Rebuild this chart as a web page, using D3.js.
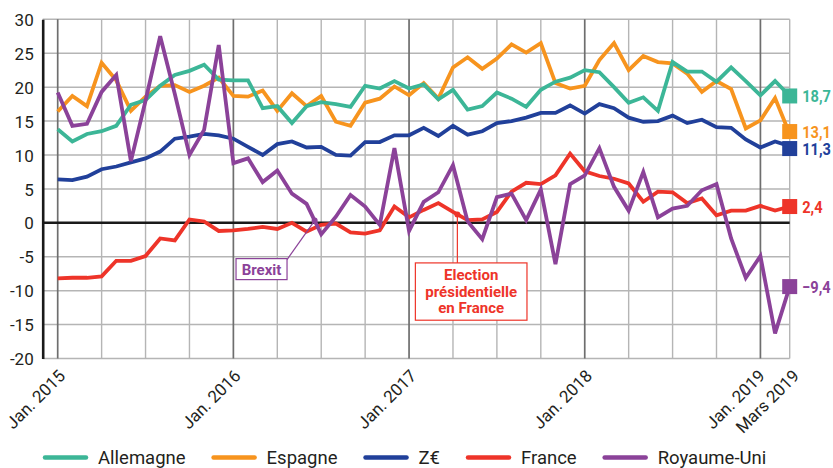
<!DOCTYPE html>
<html>
<head>
<meta charset="utf-8">
<script src="https://cdn.jsdelivr.net/npm/d3@7"></script>
<style>
  body { margin: 0; background: #fff; }
  text { font-family: Roboto, "Noto Sans", sans-serif; fill: #231f20; }
</style>
</head>
<body>
<svg id="chart" width="833" height="468"></svg>
<script>
// monthly values, Jan. 2015 -> Mars 2019 (51 months)
const allemagne = [13.8, 12.0, 13.1, 13.5, 14.3, 17.4, 18.1, 20.2, 21.8, 22.4, 23.3, 21.1,
  21.0, 21.0, 16.9, 17.2, 14.7, 17.2, 17.8, 17.5, 17.1, 20.2, 19.8, 20.9,
  19.8, 20.4, 18.2, 19.6, 16.7, 17.2, 19.2, 18.3, 17.1, 19.6, 20.8, 21.4,
  22.5, 22.2, 20.0, 17.7, 18.5, 16.5, 23.7, 22.3, 22.3, 20.8, 22.9, 20.9,
  18.8, 20.9, 18.7];
const espagne = [16.4, 18.7, 17.2, 23.6, 21.0, 16.5, 18.6, 20.2, 20.3, 19.3, 20.2, 21.4,
  18.7, 18.6, 19.5, 16.5, 19.1, 17.2, 18.7, 14.9, 14.3, 17.7, 18.3, 20.1,
  18.8, 20.6, 18.3, 22.9, 24.4, 22.7, 24.2, 26.3, 25.1, 26.5, 20.6, 19.8,
  20.2, 24.0, 26.5, 22.5, 24.6, 23.7, 23.5, 22.0, 19.3, 20.9, 19.7, 13.9,
  15.1, 18.4, 13.1];
const zoneEuro = [6.4, 6.3, 6.8, 7.9, 8.3, 8.9, 9.5, 10.5, 12.4, 12.7, 13.1, 12.9,
  12.4, 11.2, 10.0, 11.6, 12.0, 11.1, 11.2, 10.0, 9.9, 11.9, 11.9, 12.9,
  12.9, 14.0, 12.8, 14.3, 13.0, 13.5, 14.7, 15.0, 15.5, 16.2, 16.2, 17.3,
  16.1, 17.5, 16.9, 15.5, 14.9, 15.0, 15.8, 14.7, 15.2, 14.1, 14.0, 12.3,
  11.1, 12.0, 11.3];
const france = [-8.2, -8.1, -8.1, -7.9, -5.6, -5.6, -4.9, -2.3, -2.6, 0.5, 0.2, -1.2,
  -1.1, -0.9, -0.6, -0.9, 0.0, -1.3, -0.3, -0.1, -1.4, -1.6, -1.1, 2.4,
  0.8, 1.9, 2.9, 1.6, 0.4, 0.5, 1.6, 4.6, 5.9, 5.7, 7.0, 10.2,
  7.6, 6.9, 6.5, 5.8, 3.1, 4.6, 4.5, 2.9, 3.6, 1.1, 1.8, 1.8,
  2.5, 1.8, 2.4];
const royaumeUni = [19.2, 14.3, 14.6, 19.3, 21.8, 9.1, 18.0, 27.5, 19.0, 10.0, 13.7, 26.2,
  8.8, 9.5, 6.0, 7.7, 4.3, 2.8, -1.7, 0.9, 4.1, 2.4, -0.3, 11.0,
  -1.2, 3.1, 4.5, 8.5, 0.2, -2.4, 3.8, 4.3, 0.4, 4.9, -6.1, 5.7,
  7.0, 11.0, 5.3, 1.8, 7.5, 0.8, 2.1, 2.5, 4.8, 5.7, -2.3, -8.1,
  -4.9, -16.3, -9.4];

const seriesNames = ["Allemagne", "Espagne", "Z€", "France", "Royaume-Uni"];
const seriesColors = ["#3cb697", "#f7941e", "#21409a", "#ee3429", "#8b4299"];
const seriesValues = [allemagne, espagne, zoneEuro, france, royaumeUni];
const drawOrder = [1, 0, 2, 3, 4];

const yTicks = [-20, -15, -10, -5, 0, 5, 10, 15, 20, 25, 30];
const xTickMonths = [0, 12, 24, 36, 48, 50];
const xTickLabels = ["Jan. 2015", "Jan. 2016", "Jan. 2017", "Jan. 2018", "Jan. 2019", "Mars 2019"];
const xTickNudge = [0, 0, 0, 0, -3, 2];

const events = [
  { text: ["Brexit"], month: 17.55, series: 4 },
  { text: ["Election", "présidentielle", "en France"], month: 27.3, series: 3 }
];

const svg = d3.select("#chart");
const plotLeft = 42.7, plotTop = 19.3, plotBottom = 358.5;
const nMonths = allemagne.length;

const x = d3.scaleLinear().domain([0, nMonths - 1]).range([57.7, 789.7]);
const y = d3.scaleLinear().domain([-20, 30]).range([plotBottom, plotTop]);
const plotRight = x(nMonths - 1);

// horizontal grid
svg.append("g").selectAll("line")
  .data(yTicks.filter(d => d !== 0))
  .join("line")
  .attr("x1", plotLeft).attr("x2", plotRight)
  .attr("y1", d => y(d)).attr("y2", d => y(d))
  .style("stroke", "#b5b5b5").style("stroke-width", 1.5);

// vertical grid (quarters, years darker)
svg.append("g").selectAll("line")
  .data(d3.range(0, nMonths, 3))
  .join("line")
  .attr("x1", d => x(d)).attr("x2", d => x(d))
  .attr("y1", plotTop).attr("y2", plotBottom)
  .style("stroke", d => d % 12 === 0 ? "#6e6e6e" : "#b5b5b5")
  .style("stroke-width", d => d % 12 === 0 ? 1.7 : 1.4);

svg.append("line")
  .attr("x1", plotRight).attr("x2", plotRight)
  .attr("y1", plotTop).attr("y2", plotBottom)
  .style("stroke", "#b5b5b5").style("stroke-width", 1.4);

// y axis
const yAxis = d3.axisLeft(y).tickValues(yTicks).tickSize(0).tickSizeOuter(0)
  .tickPadding(9).tickFormat(d => String(d));
const gy = svg.append("g")
  .attr("transform", "translate(" + plotLeft + ",0)")
  .call(yAxis);
gy.select(".domain").style("stroke", "#1a1a1a").style("stroke-width", 2.6);
gy.selectAll("text").style("font-size", "17px").attr("dy", "0.36em");

// zero line
svg.append("line")
  .attr("x1", plotLeft).attr("x2", plotRight)
  .attr("y1", y(0)).attr("y2", y(0))
  .style("stroke", "#1a1a1a").style("stroke-width", 2.6);

// x labels
svg.append("g").selectAll("text")
  .data(xTickMonths)
  .join("text")
  .attr("transform", (d, i) => "translate(" + (x(d) + 8.5 + xTickNudge[i]) + ",377) rotate(-45)")
  .attr("text-anchor", "end")
  .style("font-size", "17px")
  .text((d, i) => xTickLabels[i]);

// lines
const line = d3.line()
  .x((d, i) => x(i))
  .y(d => y(d));

svg.append("g").selectAll("path")
  .data(drawOrder)
  .join("path")
  .attr("d", k => line(seriesValues[k]))
  .style("fill", "none")
  .style("stroke", k => seriesColors[k])
  .style("stroke-width", 3.8)
  .style("stroke-linejoin", "miter");

// end labels, pushed apart when too close
const minGap = 17;
const ends = seriesValues.map((v, k) => ({ k: k, v: v[v.length - 1], y: y(v[v.length - 1]) }))
  .sort((a, b) => a.y - b.y);
for (let i = 1; i < ends.length; i++) {
  const gap = ends[i].y - ends[i - 1].y;
  if (gap < minGap) {
    const push = (minGap - gap) / 2;
    ends[i - 1].y -= push;
    ends[i].y += push;
  }
}
const endG = svg.append("g").selectAll("g")
  .data(ends)
  .join("g")
  .attr("transform", d => "translate(" + plotRight + "," + d.y + ")");
endG.append("rect")
  .attr("x", -7.5).attr("y", -7.5).attr("width", 15).attr("height", 15)
  .style("fill", d => seriesColors[d.k]);
endG.append("text")
  .attr("transform", "translate(12.5,0) scale(0.86,1)")
  .attr("dy", "0.36em")
  .style("font-size", "17px").style("font-weight", "bold")
  .style("fill", d => seriesColors[d.k])
  .text(d => d3.format(".1f")(d.v).replace(".", ",").replace("-", "\u2011"));

// event annotations
function valueAt(series, m) {
  const i = Math.floor(m), f = m - i;
  return series[i] + (series[i + 1] - series[i]) * f;
}
events.forEach(function(ev, n) {
  const col = seriesColors[ev.series];
  const mx = x(ev.month), my = y(valueAt(seriesValues[ev.series], ev.month));
  const g = svg.append("g");
  let bx, by, bw, bh, lx, ly;
  if (n === 0) {
    bw = 51; bh = 21; bx = mx - 27.6 - bw; by = my + 38;
    lx = bx + bw; ly = by + 1;
  } else {
    bw = 111.6; bh = 57.3; bx = mx - 42; by = my + 48.5;
    lx = mx; ly = by;
  }
  g.append("line")
    .attr("x1", mx).attr("y1", my).attr("x2", lx).attr("y2", ly)
    .style("stroke", col).style("stroke-width", 1.2);
  g.append("rect")
    .attr("x", bx).attr("y", by).attr("width", bw).attr("height", bh)
    .style("fill", "#fff").style("stroke", col).style("stroke-width", 1.2);
  g.append("circle")
    .attr("cx", mx).attr("cy", my).attr("r", 3)
    .style("fill", col);
  g.append("text")
    .attr("text-anchor", "middle")
    .style("font-size", "15px")
    .style("font-weight", "bold")
    .style("fill", col)
    .selectAll("tspan")
    .data(ev.text)
    .join("tspan")
    .attr("x", bx + bw / 2)
    .attr("y", (d, i) => by + (n === 0 ? 16 : 17.3 + i * 16.3))
    .text(d => d);
});

// legend
const legend = svg.append("g").attr("transform", "translate(43,457.5)");
let lxPos = 0;
seriesNames.forEach(function(name, k) {
  const item = legend.append("g").attr("transform", "translate(" + lxPos + ",0)");
  item.append("line")
    .attr("x1", 2).attr("x2", 43).attr("y1", 0).attr("y2", 0)
    .style("stroke", seriesColors[k]).style("stroke-width", 4.5)
    .style("stroke-linecap", "round");
  const t = item.append("text")
    .attr("x", 55).attr("y", 6)
    .style("font-size", "18.5px")
    .text(name);
  lxPos += 55 + t.node().getComputedTextLength() + 26;
});
</script>
</body>
</html>
